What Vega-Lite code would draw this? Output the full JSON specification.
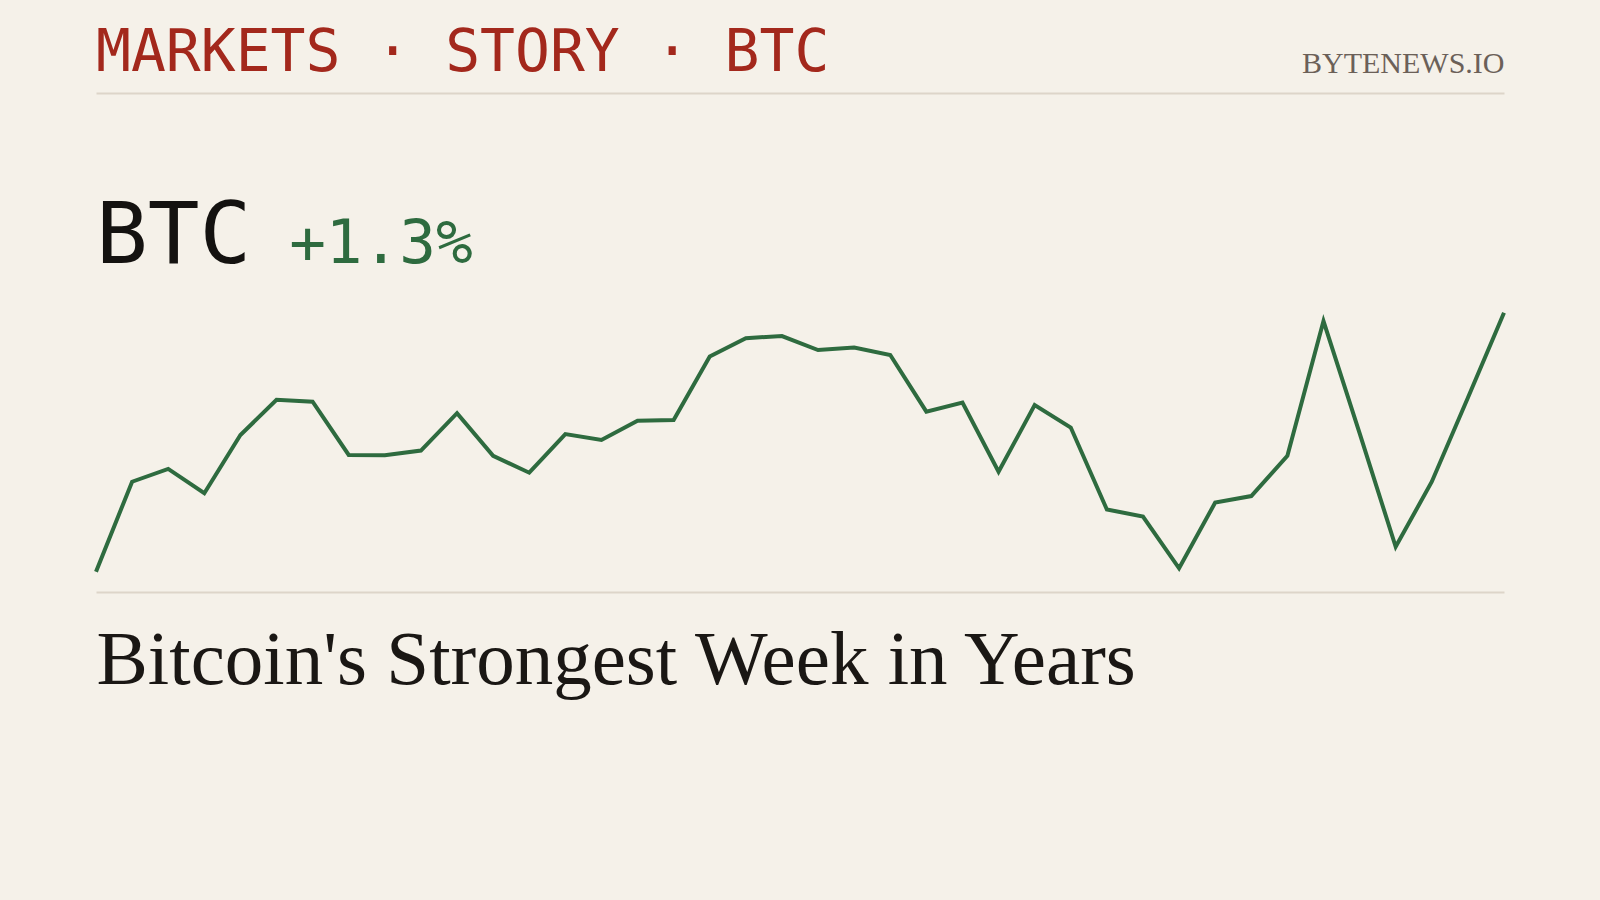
{
  "$schema": "https://vega.github.io/schema/vega-lite/v6.json",
  "width": 1408,
  "height": 499,
  "autosize": {"type": "none"},
  "padding": {"left": 96, "top": 93, "right": 96, "bottom": 308},
  "background": "#f5f1e9",
  "config": {"view": {"stroke": null}},
  "title": {
    "text": "MARKETS · STORY · BTC",
    "anchor": "start",
    "frame": "group",
    "font": "DejaVu Sans Mono",
    "fontSize": 58,
    "fontWeight": "normal",
    "color": "#a3281c",
    "baseline": "alphabetic",
    "offset": -81,
    "limit": 3000
  },
  "resolve": {"axis": {"x": "independent"}},
  "layer": [
    {
      "data": {
        "values": [
          {"t": 0, "price": 64000}, {"t": 1, "price": 64289}, {"t": 2, "price": 64330}, {"t": 3, "price": 64252},
          {"t": 4, "price": 64439}, {"t": 5, "price": 64552}, {"t": 6, "price": 64546}, {"t": 7, "price": 64375},
          {"t": 8, "price": 64374}, {"t": 9, "price": 64389}, {"t": 10, "price": 64509}, {"t": 11, "price": 64372},
          {"t": 12, "price": 64318}, {"t": 13, "price": 64442}, {"t": 14, "price": 64423}, {"t": 15, "price": 64485},
          {"t": 16, "price": 64487}, {"t": 17, "price": 64691}, {"t": 18, "price": 64750}, {"t": 19, "price": 64757},
          {"t": 20, "price": 64712}, {"t": 21, "price": 64720}, {"t": 22, "price": 64696}, {"t": 23, "price": 64514},
          {"t": 24, "price": 64543}, {"t": 25, "price": 64321}, {"t": 26, "price": 64535}, {"t": 27, "price": 64463},
          {"t": 28, "price": 64200}, {"t": 29, "price": 64177}, {"t": 30, "price": 64011}, {"t": 31, "price": 64222},
          {"t": 32, "price": 64243}, {"t": 33, "price": 64372}, {"t": 34, "price": 64805}, {"t": 35, "price": 64445},
          {"t": 36, "price": 64080}, {"t": 37, "price": 64289}, {"t": 38, "price": 64559}, {"t": 39, "price": 64832}
        ]
      },
      "mark": {"type": "line", "color": "#2e6b3f", "strokeWidth": 4},
      "encoding": {
        "x": {
          "field": "t",
          "type": "quantitative",
          "scale": {"domain": [0, 39], "nice": false, "zero": false},
          "axis": {
            "orient": "bottom",
            "domain": true,
            "domainColor": "#ddd5c9",
            "domainWidth": 2,
            "ticks": false,
            "labels": false,
            "grid": false,
            "title": "Bitcoin's Strongest Week in Years",
            "titleFont": "Liberation Serif",
            "titleFontSize": 77,
            "titleFontWeight": "normal",
            "titleColor": "#1a1714",
            "titleAnchor": "start",
            "titleAlign": "left",
            "titleBaseline": "alphabetic",
            "titlePadding": 91,
            "titleLimit": 3000
          }
        },
        "y": {
          "field": "price",
          "type": "quantitative",
          "scale": {"domain": [63934.8, 65537.6], "nice": false, "zero": false},
          "axis": null
        }
      }
    },
    {
      "data": {"values": [{"ticker": "BTC"}]},
      "mark": {"type": "text", "font": "DejaVu Sans Mono", "fontSize": 86, "color": "#141210", "align": "left", "baseline": "alphabetic"},
      "encoding": {
        "text": {"field": "ticker"},
        "x": {
          "datum": 0,
          "type": "quantitative",
          "axis": {
            "orient": "top",
            "domain": true,
            "domainColor": "#ddd5c9",
            "domainWidth": 2,
            "ticks": false,
            "labels": false,
            "grid": false,
            "title": "BYTENEWS.IO",
            "titleFont": "Liberation Serif",
            "titleFontSize": 30,
            "titleFontWeight": "normal",
            "titleColor": "#6b6058",
            "titleAnchor": "end",
            "titleAlign": "right",
            "titleBaseline": "alphabetic",
            "titlePadding": 21,
            "titleLimit": 3000
          }
        },
        "y": {"datum": 64990.6, "type": "quantitative", "axis": null}
      }
    },
    {
      "data": {"values": [{"change": "+1.3%"}]},
      "mark": {"type": "text", "font": "DejaVu Sans Mono", "fontSize": 61, "color": "#2e6b3f", "align": "left", "baseline": "alphabetic"},
      "encoding": {
        "text": {"field": "change"},
        "x": {"datum": 5.35, "type": "quantitative", "axis": null},
        "y": {"datum": 64990.6, "type": "quantitative", "axis": null}
      }
    }
  ]
}
